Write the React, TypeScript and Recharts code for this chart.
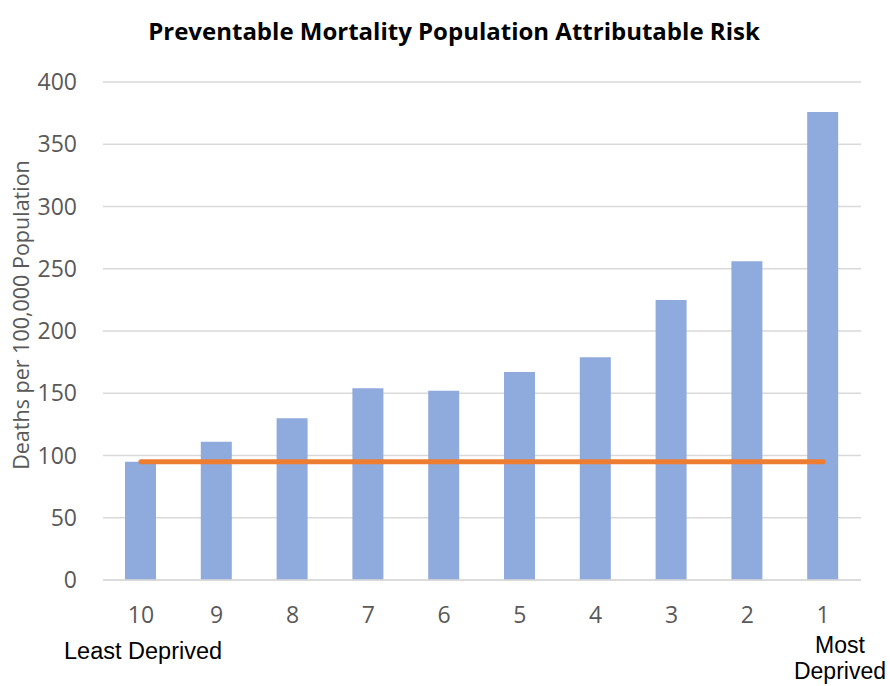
import { ComposedChart, Bar, Line, XAxis, YAxis, CartesianGrid } from "recharts"

const deciles = ["10", "9", "8", "7", "6", "5", "4", "3", "2", "1"]
const deathRates = [95, 111, 130, 154, 152, 167, 179, 225, 256, 376]
const leastDeprivedRate = [95, 95, 95, 95, 95, 95, 95, 95, 95, 95]
const yTicks = [0, 50, 100, 150, 200, 250, 300, 350, 400]

const data = deciles.map((decile, i) => ({
  decile,
  rate: deathRates[i],
  baseline: leastDeprivedRate[i],
}))

const gray = "#595959"
const tickFont = { fill: gray, fontSize: 23, fontFamily: "Open Sans" }

export default function App() {
  return (
    <div style={{ position: "absolute", left: 0, top: 0, width: 890, height: 686, background: "#fff", overflow: "hidden" }}>
      <div
        style={{
          position: "absolute",
          left: 0,
          top: 15,
          width: 908,
          textAlign: "center",
          fontFamily: "Open Sans",
          fontWeight: 700,
          fontSize: 24,
          lineHeight: "32px",
          color: "#000",
        }}
      >
        Preventable Mortality Population Attributable Risk
      </div>
      <div
        style={{
          position: "absolute",
          left: 21 - 200,
          top: 315 - 15,
          width: 400,
          lineHeight: "30px",
          textAlign: "center",
          transform: "rotate(-90deg)",
          fontFamily: "Open Sans",
          fontSize: 21.5,
          color: gray,
        }}
      >
        Deaths per 100,000 Population
      </div>
      <ComposedChart
        width={890}
        height={686}
        data={data}
        margin={{ top: 82, right: 29, bottom: 66, left: 0 }}
      >
        <CartesianGrid vertical={false} stroke="#d9d9d9" strokeWidth={1.5} />
        <XAxis
          dataKey="decile"
          height={40}
          tickLine={false}
          tickSize={0}
          tickMargin={27}
          axisLine={{ stroke: "#d9d9d9", strokeWidth: 1.5 }}
          tick={tickFont}
          interval={0}
        />
        <YAxis
          width={103}
          domain={[0, 400]}
          ticks={yTicks}
          tickLine={false}
          tickSize={0}
          tickMargin={26}
          axisLine={false}
          tick={tickFont}
        />
        <Bar dataKey="rate" fill="#8faadc" barSize={31} isAnimationActive={false} />
        <Line
          dataKey="baseline"
          stroke="#ed7d31"
          strokeWidth={5}
          strokeLinecap="round"
          dot={false}
          activeDot={false}
          isAnimationActive={false}
        />
      </ComposedChart>
      <div
        style={{
          position: "absolute",
          left: 64,
          top: 651 - 14,
          lineHeight: "28px",
          fontFamily: "Liberation Sans",
          fontSize: 23.5,
          color: "#000",
          whiteSpace: "nowrap",
        }}
      >
        Least Deprived
      </div>
      <div
        style={{
          position: "absolute",
          left: 790,
          top: 632,
          width: 100,
          lineHeight: "26px",
          textAlign: "center",
          fontFamily: "Liberation Sans",
          fontSize: 23,
          color: "#000",
          whiteSpace: "nowrap",
        }}
      >
        Most
        <br />
        Deprived
      </div>
    </div>
  )
}
